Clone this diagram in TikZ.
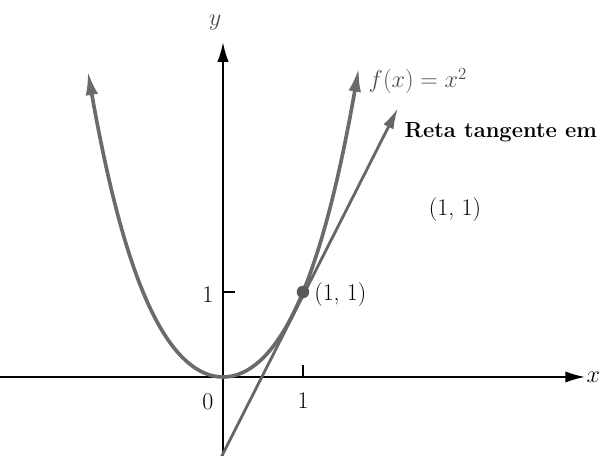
\documentclass[tikz,border=0pt]{standalone}
\usepackage{fontspec}
\usepackage{amsmath}
\usetikzlibrary{arrows.meta}

\begin{document}
\begin{tikzpicture}[x=2cm,y=2.125cm,
    eixo/.style={line width=1.3pt,black},
    curva/.style={line width=2.6pt,black!58},
    tangente/.style={line width=2pt,black!60},
    rotulo/.style={font=\fontsize{17}{20}\selectfont,inner sep=1pt}]
  \useasboundingbox (-2.7875,-0.929) rectangle (4.7375,4.435);
  % eixos
  \draw[eixo,-{Latex[length=14pt,width=8pt]}] (-2.7875,0) -- (4.525,0) coordinate (xfim);
  \node[rotulo,anchor=east] (xlab) at (4.735,0) {$x$};
  \draw[eixo,-{Latex[length=14pt,width=8pt]}] (0,-0.929) -- (0,3.94) coordinate (yfim);
  \node[rotulo,black!70] (ylab) at (-0.1,4.165) {$y$};
  % marcas
  \draw[eixo] (1,0) -- (1,0.14);
  \draw[eixo] (0,1) -- (0.15,1);
  \node[rotulo] (umx) at (1,-0.28) {1};
  \node[rotulo] (umy) at (-0.19,0.97) {1};
  \node[rotulo] (zero) at (-0.19,-0.29) {0};
  % parabola
  \draw[curva,{Latex[length=17pt,width=9pt]}-{Latex[length=17pt,width=9pt]}]
    plot[domain=-1.69:1.697,samples=90] (\x,{0.86*\x*\x+0.14*\x*\x*\x*\x});
  \node[rotulo,black!70,anchor=west] (fx) at (1.8,3.48) {$f(x)=x^2$};
  % reta tangente
  \coordinate (T0) at (-0.02,-0.94);
  \coordinate (T1) at (2.1875,3.165);
  \draw[tangente,-{Latex[length=15pt,width=8pt]}] (T0) -- (T1);
  \node[rotulo,anchor=west,font=\fontsize{15.6}{19}\selectfont\bfseries] (reta) at (2.25,2.88) {Reta tangente em};
  \node[rotulo] (ponto) at (2.9,1.965) {(1, 1)};
  % ponto de tangencia
  \filldraw[black!65] (1,1) circle (0.15cm) coordinate (P);
  \node[rotulo,anchor=west] (plab) at (1.12,0.97) {(1, 1)};
\end{tikzpicture}
\end{document}
